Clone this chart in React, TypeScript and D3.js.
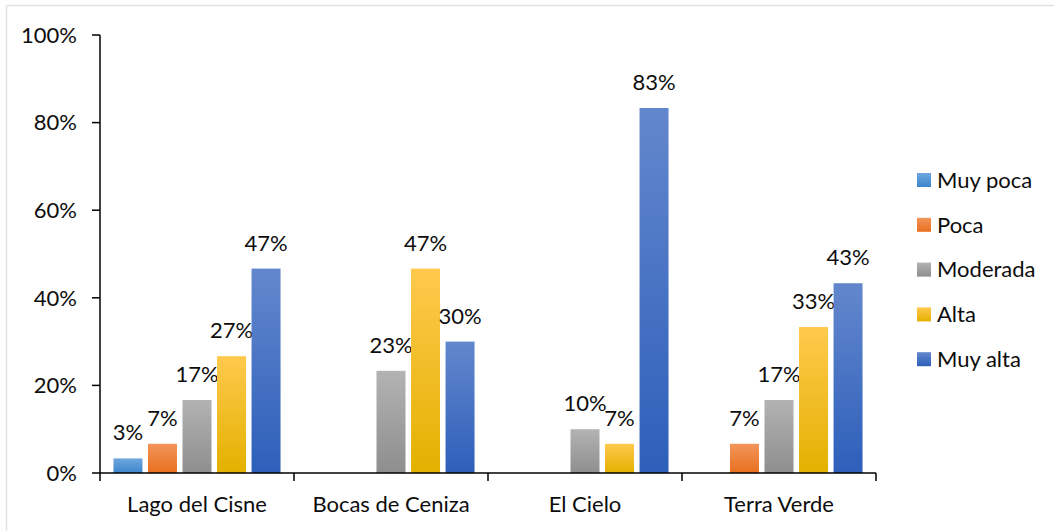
import React from "react";
import * as d3 from "d3";

const categories = ["Lago del Cisne", "Bocas de Ceniza", "El Cielo", "Terra Verde"];
const seriesNames = ["Muy poca", "Poca", "Moderada", "Alta", "Muy alta"];
const muyPoca = [0.0333, 0, 0, 0];
const poca = [0.0667, 0, 0, 0.0667];
const moderada = [0.1667, 0.2333, 0.1, 0.1667];
const alta = [0.2667, 0.4667, 0.0667, 0.3333];
const muyAlta = [0.4667, 0.3, 0.8333, 0.4333];
const yTicks = [0, 0.2, 0.4, 0.6, 0.8, 1.0];

const seriesValues = [muyPoca, poca, moderada, alta, muyAlta];
const gradients = [
  ["#6fa7dd", "#3d85cd"],
  ["#f3955a", "#e8701f"],
  ["#b3b3b3", "#8e8e8e"],
  ["#ffc94d", "#e3b100"],
  ["#6387cd", "#2d5fba"],
];

const W = 1054;
const H = 531;
const FONT = "Lato, Carlito, Calibri, sans-serif";
const FS = 22;

export default function App() {
  const y = d3.scaleLinear().domain([0, 1]).range([473, 35]);
  const x = d3.scaleBand<string>().domain(categories).range([100, 876]).padding(0);
  const xs = d3
    .scaleBand<string>()
    .domain(seriesNames)
    .range([0, x.bandwidth()])
    .paddingInner(0.16)
    .paddingOuter(0.39);
  const boundaries = [...categories.map((c) => x(c) as number), 876];
  const fmt = d3.format(".0%");

  return (
    <svg
      width={W}
      height={H}
      style={{ position: "absolute", left: 0, top: 0, background: "#fff" }}
      fontFamily={FONT}
    >
      <defs>
        {gradients.map((g, i) => (
          <linearGradient key={i} id={`g${i}`} x1="0" y1="0" x2="0" y2="1">
            <stop offset="0%" stopColor={g[0]} />
            <stop offset="100%" stopColor={g[1]} />
          </linearGradient>
        ))}
      </defs>
      <rect x={0} y={0} width={W} height={H} fill="#fff" />
      <line x1={6.5} y1={5.5} x2={W} y2={5.5} stroke="#dfe3e8" strokeWidth={1.5} />
      <line x1={6.5} y1={5.5} x2={6.5} y2={H} stroke="#dfe3e8" strokeWidth={1.5} />

      {/* bars */}
      {seriesValues.map((vals, si) =>
        vals.map((v, ci) => {
          if (v <= 0) return null;
          const bx = (x(categories[ci]) as number) + (xs(seriesNames[si]) as number);
          const top = y(v);
          return (
            <g key={`${si}-${ci}`}>
              <rect
                x={bx}
                y={top}
                width={xs.bandwidth()}
                height={y(0) - top}
                fill={`url(#g${si})`}
              />
              <text
                x={bx + xs.bandwidth() / 2}
                y={top - 18}
                textAnchor="middle"
                fontSize={FS}
                fill="#0d0d0d"
              >
                {fmt(v)}
              </text>
            </g>
          );
        })
      )}

      {/* y axis */}
      <line x1={100} y1={y(1)} x2={100} y2={y(0)} stroke="#000" strokeWidth={1.5} />
      {yTicks.map((t) => (
        <g key={t}>
          <line x1={92} y1={y(t)} x2={100} y2={y(t)} stroke="#000" strokeWidth={1.5} />
          <text
            x={77}
            y={y(t)}
            dy="0.35em"
            textAnchor="end"
            fontSize={FS}
            fill="#0d0d0d"
          >
            {fmt(t)}
          </text>
        </g>
      ))}

      {/* x axis */}
      <line x1={100} y1={y(0)} x2={876} y2={y(0)} stroke="#000" strokeWidth={1.5} />
      {boundaries.map((b, i) => (
        <line key={i} x1={b} y1={y(0)} x2={b} y2={481} stroke="#000" strokeWidth={1.5} />
      ))}
      {categories.map((c) => (
        <text
          key={c}
          x={(x(c) as number) + x.bandwidth() / 2}
          y={512}
          textAnchor="middle"
          fontSize={FS}
          fill="#0d0d0d"
        >
          {c}
        </text>
      ))}

      {/* legend */}
      {seriesNames.map((s, i) => {
        const cy = 180 + i * 44.8;
        return (
          <g key={s}>
            <rect x={917} y={cy - 7} width={14} height={14} fill={`url(#g${i})`} />
            <text x={937} y={cy} dy="0.35em" fontSize={FS} fill="#0d0d0d">
              {s}
            </text>
          </g>
        );
      })}
    </svg>
  );
}
